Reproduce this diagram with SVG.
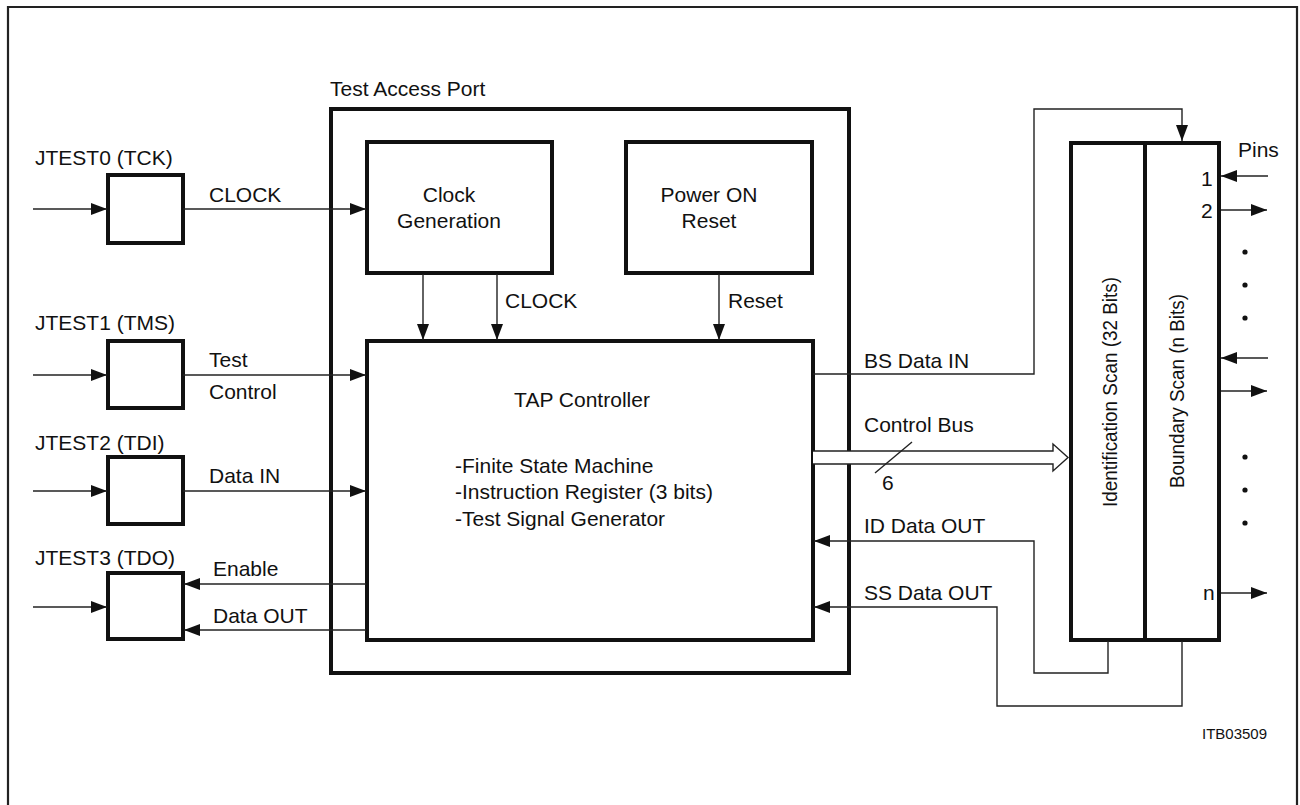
<svg xmlns="http://www.w3.org/2000/svg" width="1300" height="805" viewBox="0 0 1300 805">
<style>
text{font-family:"Liberation Sans",Arial,sans-serif;font-size:21px;fill:#111}
.box{fill:none;stroke:#111;stroke-width:4}
.wbox{fill:#fff;stroke:#111;stroke-width:4}
.ln{fill:none;stroke:#222;stroke-width:1.4}
.arr{marker-end:url(#ah)}
.c{text-anchor:middle}
.sm{font-size:15px}
.dot{fill:#111}
</style>
<defs>
<marker id="ah" viewBox="0 0 16 12" markerWidth="16" markerHeight="12" refX="16" refY="6" orient="auto" markerUnits="userSpaceOnUse">
<path d="M0,0 L16,6 L0,12 z" fill="#111"/>
</marker>
</defs>
<rect width="1300" height="805" fill="#fff"/>
<path d="M8,805 V7 H1297 V805" fill="none" stroke="#222" stroke-width="2.2"/>

<g id="tap">
<rect class="box" x="331" y="109" width="518" height="564"/>
<text x="330" y="96">Test Access Port</text>
</g>
<g id="jtest0">
<rect class="box" x="108" y="175" width="75" height="68"/>
<text x="35" y="165">JTEST0 (TCK)</text>
</g>
<g id="jtest1">
<rect class="box" x="108" y="341" width="75" height="67"/>
<text x="35" y="330">JTEST1 (TMS)</text>
</g>
<g id="jtest2">
<rect class="box" x="108" y="457" width="75" height="67"/>
<text x="35" y="450">JTEST2 (TDI)</text>
</g>
<g id="jtest3">
<rect class="box" x="108" y="573" width="75" height="66"/>
<text x="35" y="565">JTEST3 (TDO)</text>
</g>
<g id="clockgen">
<rect class="box" x="367" y="142" width="185" height="131"/>
<text class="c" x="449" y="202">Clock</text>
<text class="c" x="449" y="228">Generation</text>
</g>
<g id="por">
<rect class="box" x="626" y="142" width="186" height="131"/>
<text class="c" x="709" y="202">Power ON</text>
<text class="c" x="709" y="228">Reset</text>
</g>
<g id="tapctrl">
<rect class="box" x="367" y="341" width="446" height="299"/>
<text class="c" x="582" y="407">TAP Controller</text>
<text x="455" y="473">-Finite State Machine</text>
<text x="455" y="499">-Instruction Register (3 bits)</text>
<text x="455" y="526">-Test Signal Generator</text>
</g>
<g id="idscan">
<rect class="box" x="1071" y="143" width="74" height="497"/>
<text class="c" transform="translate(1117,392) rotate(-90)" textLength="230" lengthAdjust="spacingAndGlyphs">Identification Scan (32 Bits)</text>
</g>
<g id="bscan">
<rect class="box" x="1145" y="143" width="74" height="497"/>
<text class="c" transform="translate(1184,391) rotate(-90)" textLength="194" lengthAdjust="spacingAndGlyphs">Boundary Scan (n Bits)</text>
</g>
<g id="pins">
<text x="1238" y="157">Pins</text>
<text x="1201" y="186">1</text>
<text x="1201" y="218">2</text>
<text x="1203" y="600">n</text>
<circle class="dot" cx="1245" cy="252" r="2.6"/>
<circle class="dot" cx="1245" cy="285" r="2.6"/>
<circle class="dot" cx="1245" cy="318" r="2.6"/>
<circle class="dot" cx="1245" cy="457" r="2.6"/>
<circle class="dot" cx="1245" cy="490" r="2.6"/>
<circle class="dot" cx="1245" cy="523" r="2.6"/>
</g>
<text id="ref" class="sm" x="1202" y="739">ITB03509</text>

<g id="connectors">
<path class="ln arr" d="M33,209 H107"/>
<path class="ln arr" d="M33,375 H107"/>
<path class="ln arr" d="M33,491 H107"/>
<path class="ln arr" d="M33,607 H107"/>
<path class="ln arr" d="M183,209 H366"/>
<path class="ln arr" d="M183,375 H366"/>
<path class="ln arr" d="M183,491 H366"/>
<path class="ln arr" d="M366,584 H184"/>
<path class="ln arr" d="M366,630 H184"/>
<path class="ln arr" d="M423,274 V340"/>
<path class="ln arr" d="M497,274 V340"/>
<path class="ln arr" d="M719,274 V340"/>
<path class="ln arr" d="M813,374 H1034 V109 H1182 V141"/>
<path class="ln arr" d="M1108,641 V673 H1034 V541 H814"/>
<path class="ln arr" d="M1182,641 V706 H997 V607 H814"/>
<path d="M813,451 H1053 V444 L1068,457.5 L1053,471 V464 H813" fill="#fff" stroke="#222" stroke-width="1.4"/>
<path class="ln" d="M875,473 L912,442"/>
<path class="ln arr" d="M1268,176 H1221"/>
<path class="ln arr" d="M1221,210 H1267"/>
<path class="ln arr" d="M1268,358 H1221"/>
<path class="ln arr" d="M1221,391 H1267"/>
<path class="ln arr" d="M1221,593 H1267"/>
<text x="209" y="202">CLOCK</text>
<text x="209" y="367">Test</text>
<text x="209" y="399">Control</text>
<text x="209" y="483">Data IN</text>
<text x="213" y="576">Enable</text>
<text x="213" y="623">Data OUT</text>
<text x="505" y="308">CLOCK</text>
<text x="728" y="308">Reset</text>
<text x="864" y="368">BS Data IN</text>
<text x="864" y="432">Control Bus</text>
<text x="882" y="490">6</text>
<text x="864" y="533">ID Data OUT</text>
<text x="864" y="600">SS Data OUT</text>
</g>
</svg>
